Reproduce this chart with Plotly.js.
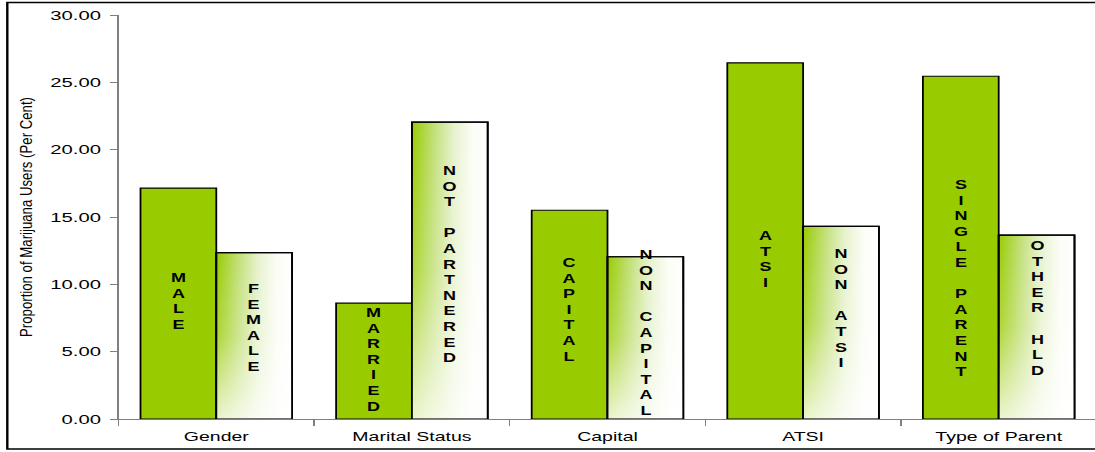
<!DOCTYPE html>
<html>
<head>
<meta charset="utf-8">
<script src="https://cdn.plot.ly/plotly-3.0.1.min.js"></script>
<style>
  html, body { margin: 0; padding: 0; background: #fff; overflow: hidden; width: 1095px; height: 452px; }
  /* the chart is laid out narrow and widened, which gives the broad lettering */
  #chart { width: 732px; height: 452px; transform: scaleX(1.5); transform-origin: 0 0; }
</style>
</head>
<body>
<div id="chart"></div>
<script>
// Share of marijuana users by population group (per cent)
const groups = ['Gender', 'Marital Status', 'Capital', 'ATSI', 'Type of Parent'];
const firstLabels = ['MALE', 'MARRIED', 'CAPITAL', 'ATSI', 'SINGLE PARENT'];
const secondLabels = ['FEMALE', 'NOT PARTNERED', 'NON CAPITAL', 'NON ATSI', 'OTHER HLD'];
const firstValues = [17.15, 8.6, 15.5, 26.45, 25.45];
const secondValues = [12.35, 22.05, 12.05, 14.3, 13.65];
const yTicks = [0, 5, 10, 15, 20, 25, 30];

// vertical centre of each stacked in-bar caption, in axis units
const firstLabelMid = [8.76, 4.38, 8.13, 11.81, 10.43];
const secondLabelMid = [6.79, 11.51, 6.42, 8.24, 8.21];

const GREEN = '#99cc00';
const BAR_GAP = 0.225;
const barOffset = (1 - BAR_GAP) / 4;   // centre of each bar relative to its group

// letters stacked one per line, a blank line between words
function stack(word) {
  return word.split(' ').map(w => w.split('').join('<br>')).join('<br>\u00a0<br>');
}

const data = [
  {
    type: 'bar', x: groups, y: firstValues, name: 'first',
    marker: { color: GREEN, line: { color: '#000', width: 1.2 } },
    hoverinfo: 'skip'
  },
  {
    type: 'bar', x: groups, y: secondValues, name: 'second',
    marker: { color: '#ffffff', line: { color: '#000', width: 1.2 } },
    hoverinfo: 'skip'
  }
];

const captionFont = { family: '"Liberation Sans", Arial, sans-serif', size: 12, color: '#000', weight: 700 };
const annotations = [];
groups.forEach((g, i) => {
  annotations.push({
    xref: 'x', yref: 'y', x: i - barOffset, y: firstLabelMid[i],
    text: stack(firstLabels[i]), showarrow: false, align: 'center',
    xanchor: 'center', yanchor: 'middle', font: captionFont
  });
  annotations.push({
    xref: 'x', yref: 'y', x: i + barOffset, y: secondLabelMid[i],
    text: stack(secondLabels[i]), showarrow: false, align: 'center',
    xanchor: 'center', yanchor: 'middle', font: captionFont
  });
});

const layout = {
  width: 732, height: 452,
  margin: { l: 79, r: 1, t: 15, b: 33 },
  paper_bgcolor: '#ffffff', plot_bgcolor: '#ffffff',
  barmode: 'group', bargap: BAR_GAP, bargroupgap: 0,
  showlegend: false,
  font: { family: '"Liberation Sans", Arial, sans-serif', color: '#000' },
  xaxis: {
    type: 'category', showline: true, linecolor: '#808080', linewidth: 1,
    ticks: 'outside', tickson: 'boundaries', ticklen: 6, tickcolor: '#808080', tickwidth: 1,
    ticklabelstandoff: 5,
    tickfont: { size: 13, color: '#000' }, showgrid: false, zeroline: false, fixedrange: true
  },
  yaxis: {
    range: [0, 30], tickvals: yTicks, tickformat: '.2f',
    showline: true, linecolor: '#808080', linewidth: 1,
    ticks: 'outside', ticklen: 5, tickcolor: '#808080', tickwidth: 1,
    ticklabelstandoff: 3,
    tickfont: { size: 13.5, color: '#000' }, showgrid: false, zeroline: false, fixedrange: true,
    title: { text: 'Proportion of Marijuana Users (Per Cent)', font: { size: 10.5, color: '#000' }, standoff: 9 }
  },
  shapes: [
    { type: 'rect', xref: 'paper', yref: 'paper', x0: -0.1137, x1: 1.05, y0: -0.0743, y1: 1.031,
      line: { color: '#000', width: 1.6 }, fillcolor: 'rgba(0,0,0,0)', layer: 'above' }
  ],
  annotations: annotations
};

Plotly.newPlot('chart', data, layout, { staticPlot: true, displayModeBar: false }).then(gd => {
  const NS = 'http://www.w3.org/2000/svg';
  const svg = gd.querySelector('svg.main-svg');
  let defs = svg.querySelector('defs');
  if (!defs) { defs = document.createElementNS(NS, 'defs'); svg.insertBefore(defs, svg.firstChild); }

  function gradient(id, x2, y2, stops) {
    const g = document.createElementNS(NS, 'linearGradient');
    g.setAttribute('id', id);
    g.setAttribute('x1', '0'); g.setAttribute('y1', '0');
    g.setAttribute('x2', x2); g.setAttribute('y2', y2);
    stops.forEach(([off, col, op]) => {
      const s = document.createElementNS(NS, 'stop');
      s.setAttribute('offset', off);
      s.setAttribute('stop-color', col);
      s.setAttribute('stop-opacity', op);
      g.appendChild(s);
    });
    defs.appendChild(g);
  }
  // green on the left edge washing out to white
  gradient('fadeAcross', '1', '0', [
    [0, GREEN, 1], [0.1, '#a6d22a', 1], [0.3, '#c3e07a', 1], [0.55, '#e6f2cc', 1],
    [0.8, '#fbfdf6', 1], [1, '#ffffff', 1]
  ]);
  // extra wash towards the base of the bar
  gradient('fadeDown', '0', '1', [
    [0, '#ffffff', 0], [0.5, '#ffffff', 0.2], [1, '#ffffff', 0.8]
  ]);

  const traces = gd.querySelectorAll('.barlayer .trace');
  if (traces[1]) {
    traces[1].querySelectorAll('.point path').forEach(p => {
      p.style.fill = 'url(#fadeAcross)';
      const wash = p.cloneNode(true);
      wash.style.fill = 'url(#fadeDown)';
      p.parentNode.appendChild(wash);
    });
  }

  const yt = gd.querySelector('.ytitle');
  if (yt) {
    yt.setAttribute('textLength', '240');
    yt.setAttribute('lengthAdjust', 'spacingAndGlyphs');
  }
});
</script>
</body>
</html>
